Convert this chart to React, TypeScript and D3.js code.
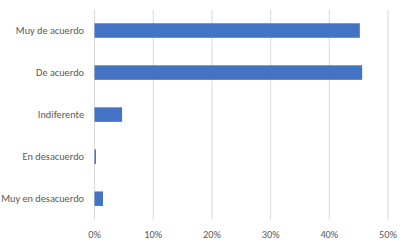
import React from "react";
import * as d3 from "d3";

const categories = ["Muy de acuerdo", "De acuerdo", "Indiferente", "En desacuerdo", "Muy en desacuerdo"];
const values = [45.2, 45.6, 4.7, 0.25, 1.45];
const ticks = [0, 10, 20, 30, 40, 50];

export default function App() {
  const W = 403, H = 246;
  const x = d3.scaleLinear().domain([0, 50]).range([94.5, 388]);
  const y = d3.scaleBand().domain(categories).range([9.5, 219.7]).paddingInner(0.655).paddingOuter(0.3275);
  const font = "Calibri, Carlito, 'Open Sans', sans-serif";
  return (
    <svg width={W} height={H} style={{ position: "absolute", left: 0, top: 0 }}>
      <rect width={W} height={H} fill="#fff" />
      {ticks.map((t) => (
        <g key={t}>
          <line x1={x(t)} x2={x(t)} y1={9.5} y2={219.7} stroke="#d9d9d9" strokeWidth={1} />
          <text x={x(t)} y={237.5} textAnchor="middle" fontSize={10.3} fill="#595959" fontFamily={font}>{t}%</text>
        </g>
      ))}
      {categories.map((c, i) => (
        <g key={c}>
          <rect x={x(0)} y={y(c)} width={x(values[i]) - x(0)} height={y.bandwidth()} fill="#4472C4" />
          <text x={84} y={(y(c) as number) + y.bandwidth() / 2} dy="0.35em" textAnchor="end" fontSize={10.3} fill="#595959" fontFamily={font}>{c}</text>
        </g>
      ))}
    </svg>
  );
}
